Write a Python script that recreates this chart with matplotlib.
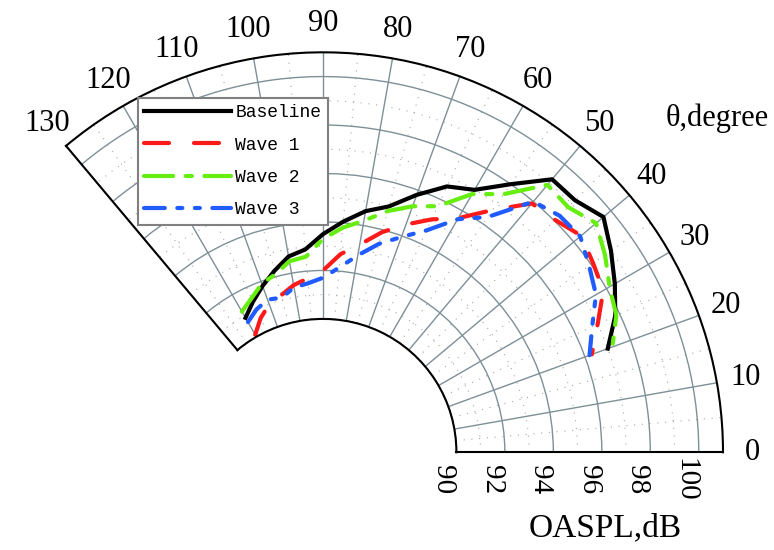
import numpy as np
import matplotlib.pyplot as plt
from matplotlib.ticker import MultipleLocator

plt.rcParams['font.family'] = ['Liberation Serif', 'DejaVu Serif']

# polar angle (degree) and OASPL (dB)
theta = [120, 115, 110, 105, 100, 95, 90, 85, 80, 75, 70,
         65, 60, 55, 50, 45, 40, 35, 30, 25, 20]
baseline = [90.9, 91.35, 91.8, 92.25, 92.7, 92.9, 93.5, 94.05, 94.6, 95.0, 95.8,
            96.6, 97.0, 98.0, 99.2, 99.2, 99.6, 99.0, 98.4, 97.8, 97.0]
wave1 = [90.1, 90.6, 91.0, 91.2, 91.5, 91.7, 92.0, 92.7, 93.2, 93.9, 94.5,
         95.1, 95.65, 96.7, 97.9, 98.05, 98.4, 98.1, 97.85, 97.0, 96.3]
wave2 = [91.2, 91.5, 91.9, 92.1, 92.5, 92.6, 93.3, 93.8, 94.2, 94.8, 95.3,
         95.7, 96.8, 97.5, 98.9, 98.8, 99.2, 98.7, 98.15, 97.85, 97.2]
wave3 = [90.7, 91.0, 91.2, 91.1, 91.4, 91.5, 91.7, 92.15, 92.75, 93.4, 93.95,
         94.6, 95.6, 96.35, 98.0, 98.3, 98.35, 97.9, 97.5, 96.75, 96.2]

theta_ticks = list(range(0, 131, 10))
r_ticks = [90, 92, 94, 96, 98, 100]

fig = plt.figure(figsize=(7.74, 5.5), dpi=100)
ax = fig.add_axes([0.0853, -0.05, 0.8488, 1.1945], projection='polar')

t = np.deg2rad(theta)
ax.plot(t, baseline, color='black', lw=3, label='Baseline')
ax.plot(t, wave1, color='#ff1a1a', lw=3, ls=(0, (6, 6)), dash_capstyle='round', label='Wave 1')
ax.plot(t, wave2, color='#66ee11', lw=3, ls=(0, (7, 3, 1.5, 3)), dash_capstyle='round', label='Wave 2')
ax.plot(t, wave3, color='#1f5bff', lw=3, ls=(0, (5, 3, 1.2, 3, 1.2, 3)), dash_capstyle='round', label='Wave 3')

ax.set_thetamin(0)
ax.set_thetamax(130)
ax.set_rlim(90, 101)
ax.set_rorigin(84.5)

ax.set_thetagrids(theta_ticks, [str(v) for v in theta_ticks])
ax.xaxis.set_minor_locator(MultipleLocator(np.deg2rad(5)))
ax.set_rticks(r_ticks)
ax.yaxis.set_minor_locator(MultipleLocator(1))

ax.grid(True, which='major', color='#7d9097', lw=1)
ax.grid(True, which='minor', color='#a8a8a8', lw=0.8, ls=(0, (1, 6)))

ax.tick_params(axis='x', which='major', direction='in', length=8, width=1.2,
               labelsize=22, pad=14)
ax.tick_params(axis='x', which='minor', direction='in', length=5, width=1)
ax.tick_params(axis='y', which='major', direction='in', length=8, width=1.2,
               labelsize=21, labelrotation=-90, pad=20)
ax.tick_params(axis='y', which='minor', direction='in', length=4, width=1)

for s in ax.spines.values():
    s.set_color('black')
    s.set_linewidth(1.5)

leg = ax.legend(loc='upper left', bbox_to_anchor=(0.178, 0.822),
                bbox_transform=fig.transFigure, fancybox=False,
                edgecolor='#808080', framealpha=1, handlelength=4.8,
                handletextpad=0.25, labelspacing=0.85, borderpad=0.35,
                borderaxespad=0,
                prop={'family': 'Liberation Mono', 'size': 13})
leg.get_frame().set_linewidth(1.5)

fig.text(0.782, 0.04, 'OASPL,dB', fontsize=24, ha='center', va='center')
fig.text(0.926, 0.785, 'θ,degree', fontsize=22, ha='center', va='center')

fig.savefig('out.png', dpi=100)
